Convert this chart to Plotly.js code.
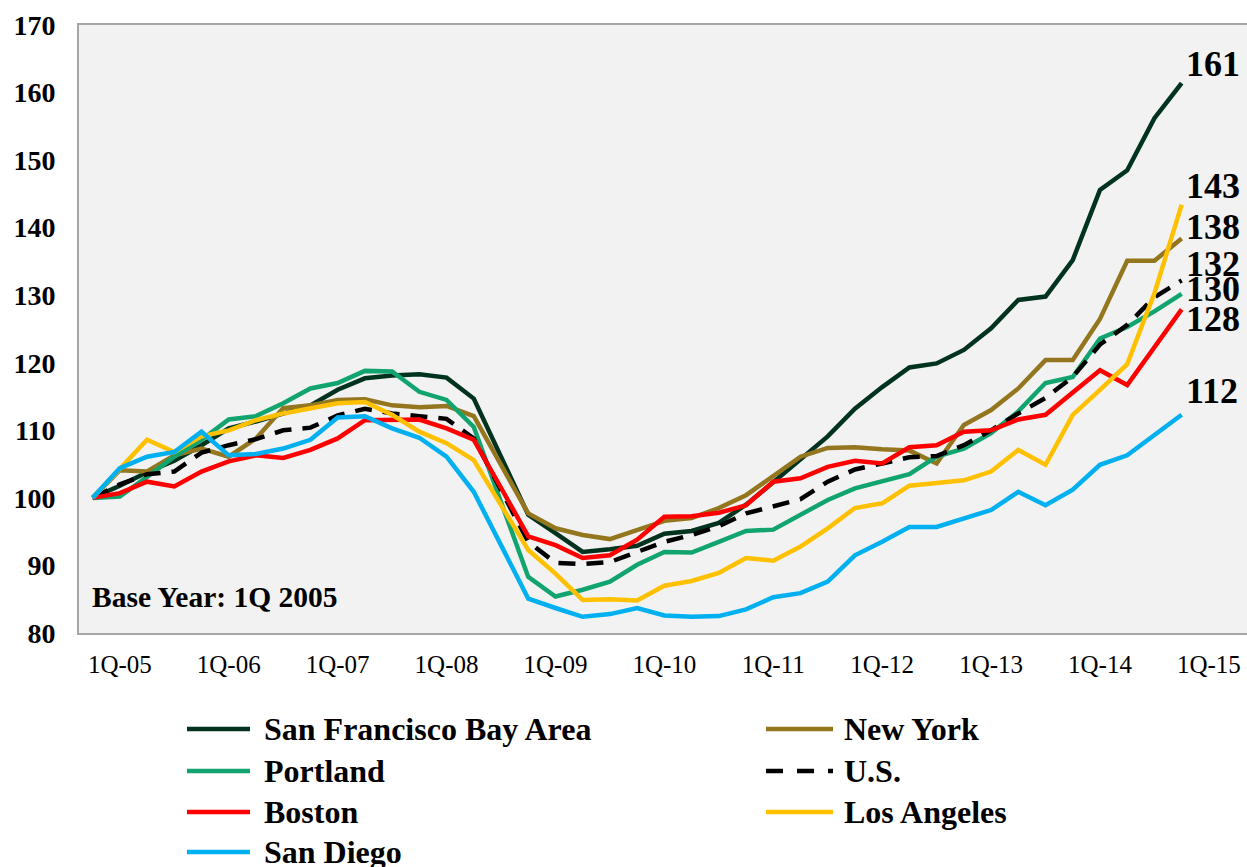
<!DOCTYPE html>
<html>
<head>
<meta charset="utf-8">
<script src="https://cdn.plot.ly/plotly-3.0.1.min.js"></script>
<style>
  html, body { margin: 0; padding: 0; background: #ffffff; }
  #chart { width: 1247px; height: 867px; }
</style>
</head>
<body>
<div id="chart"></div>
<script>
// Quarterly index, base 1Q 2005 = 100 (41 quarters)
const seriesNames = ['San Francisco Bay Area', 'New York', 'Portland', 'U.S.', 'Boston', 'Los Angeles', 'San Diego'];

const sanFrancisco = [100,101.8,103.8,105.5,107.8,110.3,111.3,112.5,113.7,116.0,117.7,118.1,118.3,117.8,114.7,106.1,97.5,94.8,92.0,92.4,92.9,94.7,95.1,96.3,99.0,102.3,105.7,109.1,113.2,116.4,119.3,119.9,121.9,125.1,129.3,129.8,135.2,145.6,148.5,156.2,161.4];
const newYork = [100,104.1,103.9,106.3,107.3,106.1,108.8,113.3,113.7,114.5,114.6,113.7,113.4,113.6,112.1,104.9,97.7,95.5,94.5,93.9,95.3,96.6,97.0,98.5,100.4,103.3,106.1,107.4,107.5,107.2,107.0,105.1,110.8,113.0,116.2,120.4,120.4,126.5,135.1,135.1,138.4];
const portland = [100,100.2,103.1,106.1,108.6,111.6,112.1,114.0,116.2,117.0,118.8,118.7,115.7,114.5,110.5,99.5,88.3,85.4,86.4,87.6,90.1,92.0,91.9,93.5,95.1,95.3,97.5,99.7,101.4,102.5,103.5,106.1,107.3,109.6,112.8,117.0,117.9,123.6,125.3,127.6,130.2];
const us = [100,102.0,103.5,103.9,106.7,107.8,108.7,110.0,110.4,112.2,113.2,112.5,112.1,111.7,108.8,101.0,93.5,90.4,90.2,90.5,92.0,93.5,94.5,95.8,97.7,98.7,99.8,102.4,104.2,105.1,106.0,106.2,107.8,110.0,112.5,114.8,117.9,122.7,125.6,129.7,132.2];
const boston = [100,100.7,102.4,101.7,103.9,105.4,106.3,105.9,107.1,108.8,111.5,111.5,111.6,110.3,108.6,101.5,94.3,93.0,91.1,91.5,93.8,97.2,97.3,97.8,98.9,102.4,102.9,104.6,105.5,105.1,107.5,107.8,109.8,110.0,111.6,112.3,115.5,118.9,116.7,122.4,127.9];
const losAngeles = [100,104.3,108.6,106.8,109.1,110.0,111.5,112.5,113.3,114.0,114.2,112.3,109.8,108.1,105.6,99.0,92.3,88.8,84.9,85.0,84.8,87.0,87.7,88.9,91.1,90.7,92.8,95.5,98.5,99.2,101.8,102.2,102.6,103.9,107.1,104.9,112.3,116.0,119.8,130.3,143.4];
const sanDiego = [100,104.4,106.1,106.8,109.8,106.3,106.5,107.3,108.6,111.9,112.1,110.3,108.9,106.1,100.9,93.0,85.1,83.7,82.4,82.8,83.7,82.6,82.4,82.5,83.5,85.3,85.9,87.6,91.5,93.5,95.7,95.7,96.9,98.2,100.9,98.9,101.2,104.9,106.3,109.3,112.3];

const tickLabels = ['1Q-05','1Q-06','1Q-07','1Q-08','1Q-09','1Q-10','1Q-11','1Q-12','1Q-13','1Q-14','1Q-15'];
const endLabels = ['161','138','130','132','128','143','112'];
const noteText = 'Base Year: 1Q 2005';

const allSeries = [sanFrancisco, newYork, portland, us, boston, losAngeles, sanDiego];
const colors = ['#01331f', '#94761f', '#12a46f', '#000000', '#ff0000', '#ffc000', '#00b0f0'];
const dashes = ['solid', 'solid', 'solid', '17px,11px', 'solid', 'solid', 'solid'];
const labelShift = [19, 11, 5, 16, -10, 19, 24];

const quarterIdx = sanFrancisco.map((_, i) => i);
const FONT = '"Liberation Serif", "Times New Roman", Times, serif';

// plot-area geometry (pixels) used to place the hand-made legend
const W = 1247, H = 867, ML = 79, MR = 0, MT = 25, MB = 234;
const PW = W - ML - MR, PH = H - MT - MB;
const px2x = p => (p - ML) / PW;
const py2y = p => (H - MB - p) / PH;

const traces = allSeries.map((vals, k) => ({
  type: 'scatter',
  mode: 'lines',
  name: seriesNames[k],
  x: quarterIdx,
  y: vals,
  line: { color: colors[k], width: 4.5, dash: dashes[k] },
  hoverinfo: 'skip',
  showlegend: false
}));

const annotations = allSeries.map((vals, k) => ({
  xref: 'x', yref: 'y',
  x: quarterIdx[quarterIdx.length - 1],
  y: vals[vals.length - 1],
  text: endLabels[k],
  showarrow: false,
  xanchor: 'left', yanchor: 'middle',
  xshift: 2, yshift: labelShift[k],
  font: { family: FONT, size: 36, color: '#000000', weight: 'bold' }
}));
annotations.push({
  xref: 'paper', yref: 'y',
  x: px2x(90), y: 85.3,
  text: noteText,
  showarrow: false,
  xanchor: 'left', yanchor: 'middle',
  font: { family: FONT, size: 29.5, color: '#000000', weight: 'bold' }
});

// two-column legend, filled row by row
const shapes = [];
const colLineX = [[187, 250], [766, 833]];
const colTextX = [262, 842];
const rowY = [729, 771, 812, 852];
seriesNames.forEach((name, k) => {
  const col = k % 2, row = Math.floor(k / 2);
  shapes.push({
    type: 'line', xref: 'paper', yref: 'paper',
    x0: px2x(colLineX[col][0]), x1: px2x(colLineX[col][1]),
    y0: py2y(rowY[row]), y1: py2y(rowY[row]),
    line: { color: colors[k], width: 4.5, dash: dashes[k] === 'solid' ? 'solid' : '17px,14px' }
  });
  annotations.push({
    xref: 'paper', yref: 'paper',
    x: px2x(colTextX[col]), y: py2y(rowY[row]),
    text: name, showarrow: false,
    xanchor: 'left', yanchor: 'middle',
    font: { family: FONT, size: 32, color: '#000000', weight: 'bold' }
  });
});

const tickVals = tickLabels.map((_, i) => 1 + 4 * i);

const layout = {
  width: W, height: H,
  margin: { l: ML, r: MR, t: MT, b: MB, pad: 0 },
  paper_bgcolor: '#ffffff',
  plot_bgcolor: '#f2f2f2',
  font: { family: FONT, color: '#000000' },
  showlegend: false,
  xaxis: {
    type: 'linear',
    range: [-0.5, 42.4],
    tickmode: 'array',
    tickvals: tickVals,
    ticktext: tickLabels,
    showgrid: false, zeroline: false,
    showline: true, linecolor: '#a6a6a6', linewidth: 2, mirror: true,
    ticks: '',
    ticklabelstandoff: 8,
    tickfont: { family: FONT, size: 25, color: '#000000' }
  },
  yaxis: {
    range: [80, 170],
    tickmode: 'linear', tick0: 80, dtick: 10,
    showgrid: false, zeroline: false,
    showline: true, linecolor: '#a6a6a6', linewidth: 2,
    ticks: '',
    ticklabelstandoff: 16,
    tickfont: { family: FONT, size: 28, color: '#000000', weight: 'bold' }
  },
  shapes: shapes,
  annotations: annotations
};

Plotly.newPlot('chart', traces, layout, { staticPlot: true, displayModeBar: false });
</script>
</body>
</html>
